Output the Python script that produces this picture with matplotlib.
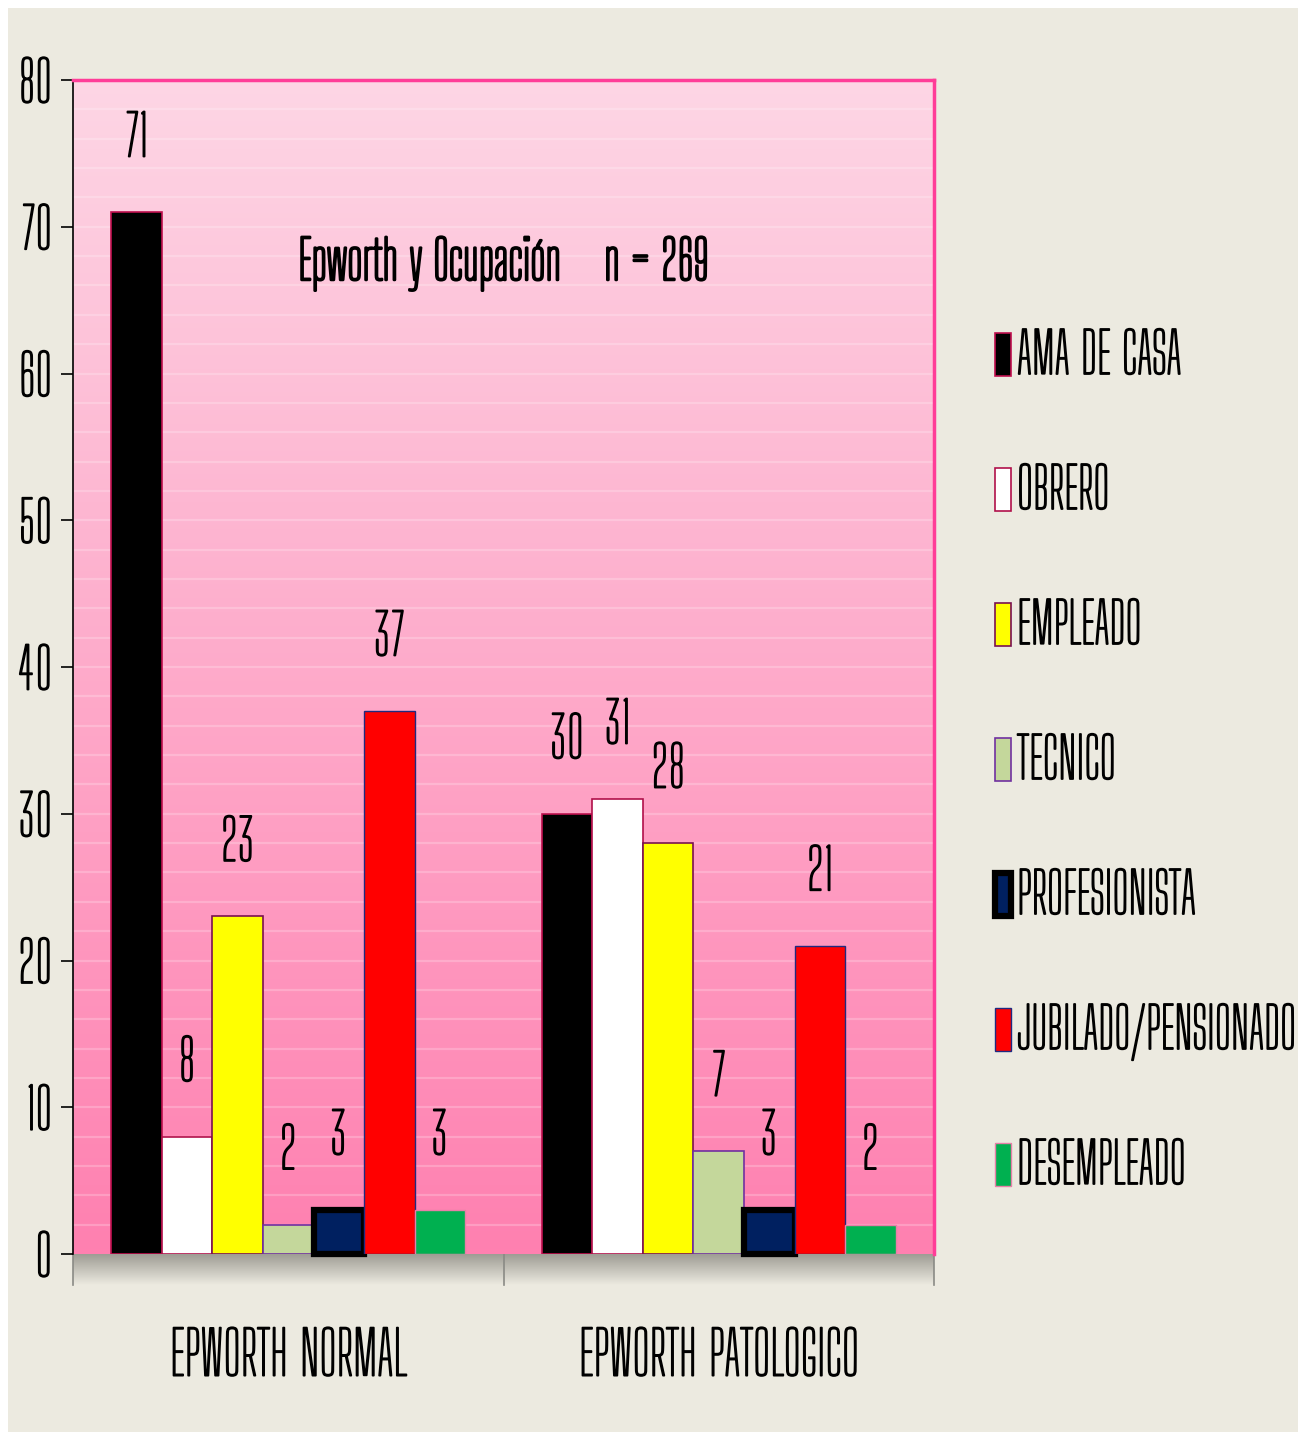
import numpy as np
import matplotlib
matplotlib.use("Agg")
import matplotlib.pyplot as plt
from matplotlib import font_manager
from matplotlib.font_manager import FontProperties
from matplotlib.textpath import TextPath
import matplotlib.patheffects as pe
from matplotlib.patches import Rectangle
from matplotlib.lines import Line2D
from matplotlib.colors import LinearSegmentedColormap

instaladas = {f.name for f in font_manager.fontManager.ttflist}


def medidas(nombre):
    # ancho de una etiqueta de referencia respecto a la altura de mayúscula
    fp = FontProperties(family=nombre, size=100)
    w = TextPath((0, 0), "EPWORTH NORMAL", prop=fp).get_extents().width
    h = TextPath((0, 0), "H", prop=fp).get_extents().height
    return w / h, h


candidatas = [f for f in ["Smooch Sans", "Alumni Sans", "League Gothic", "Antonio",
                          "Big Shoulders Display", "Pathway Gothic One", "Tulpen One"]
              if f in instaladas] or ["DejaVu Sans"]
LETRA = min(candidatas, key=lambda f: abs(medidas(f)[0] - 4.7))
RATIO, CAP100 = medidas(LETRA)
plt.rcParams["font.family"] = [LETRA, "DejaVu Sans"]

# trazo extra para engrosar la letra
GRUESO = [pe.withStroke(linewidth=1.3, foreground="black")]


def pts(cap_px):
    # tamaño en puntos para una altura de mayúscula dada en píxeles (dpi 100)
    return cap_px / (CAP100 / 100 * 100 / 72)


# datos
grupos = ["EPWORTH NORMAL", "EPWORTH PATOLOGICO"]
ocupaciones = ["AMA DE CASA", "OBRERO", "EMPLEADO", "TECNICO",
               "PROFESIONISTA", "JUBILADO/PENSIONADO", "DESEMPLEADO"]
normal = [71, 8, 23, 2, 3, 37, 3]
patologico = [30, 31, 28, 7, 3, 21, 2]
titulo = "Epworth y Ocupación    n = 269"

colores = ["#000000", "#FFFFFF", "#FFFF00", "#C4D79B", "#002060", "#FF0000", "#00B050"]
bordes = ["#C0104F", "#B0104A", "#7A1050", "#7030A0", "#000000", "#1F2A80", "#E87FA8"]
grosor = [1.2, 1.2, 1.2, 1.2, 4.5, 1.0, 1.0]

W, H = 1306, 1450
fig = plt.figure(figsize=(W / 100, H / 100), dpi=100, facecolor="white")

# fondo beige
fig.add_artist(Rectangle((8 / W, 1 - 1432 / H), 1290 / W, 1424 / H,
                         transform=fig.transFigure, facecolor="#ECEAE0",
                         edgecolor="none", zorder=-10))

x0, x1, ytop, ybot = 73, 934, 80, 1254
ax = fig.add_axes([x0 / W, 1 - ybot / H, (x1 - x0) / W, (ybot - ytop) / H])
ax.set_xlim(-0.5, 1.5)
ax.set_ylim(0, 80)

# degradado rosa del área de trazado
rosa = LinearSegmentedColormap.from_list("rosa", ["#FF80B0", "#FDD6E5"])
ax.imshow(np.linspace(0, 1, 256).reshape(-1, 1), cmap=rosa, origin="lower",
          extent=[-0.5, 1.5, 0, 80], aspect="auto", zorder=0)
for yv in range(2, 80, 2):
    ax.axhline(yv, color="white", alpha=0.22, lw=1.6, zorder=0.5)

n = len(ocupaciones)
ancho = 0.822 / n
pos = np.arange(len(grupos))
barras = []
for i in range(n):
    vals = [normal[i], patologico[i]]
    xs = pos - 0.411 + ancho * (i + 0.5)
    b = ax.bar(xs, vals, width=ancho, color=colores[i], edgecolor=bordes[i],
               linewidth=grosor[i], label=ocupaciones[i], zorder=2)
    if i == 4:
        for r in b:
            r.set_clip_on(False)
    barras.append(b)
    for xv, v in zip(xs, vals):
        ax.annotate(str(v), (xv, v), xytext=(0, 40), textcoords="offset points",
                    ha="center", va="baseline", fontsize=pts(45), color="black",
                    zorder=3, path_effects=GRUESO)

ax.text(0.5, 67.5, titulo, ha="center", va="center", fontsize=pts(43), zorder=3,
        path_effects=[pe.withStroke(linewidth=1.9, foreground="black")])

# ejes
for s in ("top", "right"):
    ax.spines[s].set_color("#FF3D98")
    ax.spines[s].set_linewidth(2.5)
ax.spines["left"].set_color("black")
ax.spines["left"].set_linewidth(1.2)
ax.spines["bottom"].set_visible(False)
ax.set_yticks(range(0, 81, 10))
ax.tick_params(axis="y", length=9, width=1.2, labelsize=pts(45), pad=6)
ax.set_xticks(pos)
ax.set_xticklabels(grupos, fontsize=pts(48))
ax.tick_params(axis="x", length=0, pad=53)
for t in ax.get_xticklabels() + ax.get_yticklabels():
    t.set_path_effects(GRUESO)

# sombra gris bajo el eje
sh = fig.add_axes([x0 / W, 1 - 1285 / H, (x1 - x0) / W, 31 / H])
sombra = LinearSegmentedColormap.from_list("sombra", ["#ECEAE0", "#9C9A92"])
sh.imshow(np.linspace(0, 1, 64).reshape(-1, 1), cmap=sombra, origin="lower",
          extent=[-0.5, 1.5, 0, 1], aspect="auto")
sh.set_xlim(-0.5, 1.5)
sh.set_ylim(0, 1)
sh.axis("off")
for xv in (-0.5, 0.5, 1.5):
    sh.add_line(Line2D([xv, xv], [0, 1], color="#8A8A85", lw=1.2, clip_on=False))
ax.set_zorder(2)

# leyenda: filas separadas 135 px
fs = pts(45)
fs_px = fs * 100 / 72


def leyenda(espacio):
    lg = ax.legend(handles=barras, loc="center left",
                   bbox_to_anchor=(995 / W, 1 - 762 / H), bbox_transform=fig.transFigure,
                   frameon=False, fontsize=fs, handlelength=16 / fs_px,
                   handleheight=45 / fs_px, handletextpad=6 / fs_px,
                   labelspacing=espacio, borderpad=0, borderaxespad=0)
    for t in lg.get_texts():
        t.set_path_effects(GRUESO)
    return lg


leg = leyenda(1.0)
fig.canvas.draw()
alto = leg.get_texts()[0].get_window_extent().height
leg = leyenda(max(0.1, (135 - alto) / fs_px))

fig.savefig("out.png", dpi=100, facecolor="white")
